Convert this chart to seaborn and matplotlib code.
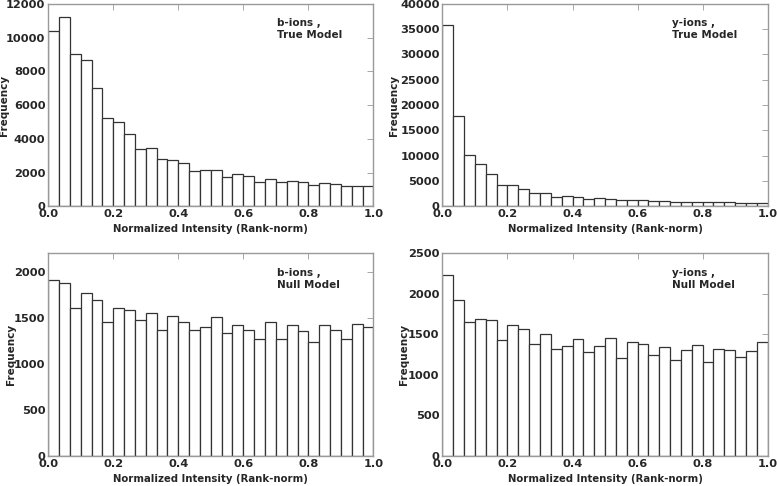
import numpy as np
import pandas as pd
import matplotlib
matplotlib.use("Agg")
import matplotlib.pyplot as plt
import seaborn as sns

# 30 equal bins on [0, 1], counts
n_bins = 30
bin_centers = (np.arange(n_bins) + 0.5) / n_bins

b_true = [10400, 11250, 9010, 8650, 7030, 5210, 5010, 4260, 3370, 3430,
          2830, 2770, 2570, 2100, 2160, 2160, 1760, 1900, 1820, 1450,
          1620, 1430, 1520, 1470, 1250, 1370, 1350, 1190, 1230, 1230]
y_true = [35800, 17800, 10200, 8290, 6320, 4280, 4150, 3490, 2700, 2630,
          1910, 2100, 1910, 1510, 1580, 1450, 1250, 1320, 1250, 1050,
          1120, 920, 920, 920, 860, 920, 860, 720, 720, 720]
b_null = [1910, 1884, 1602, 1772, 1689, 1457, 1602, 1588, 1472, 1548,
          1363, 1523, 1450, 1363, 1400, 1504, 1331, 1418, 1371, 1273,
          1450, 1269, 1418, 1360, 1233, 1418, 1371, 1266, 1429, 1403]
y_null = [2240, 1930, 1649, 1694, 1682, 1434, 1620, 1570, 1380, 1508,
          1322, 1360, 1438, 1285, 1360, 1455, 1211, 1409, 1380, 1252,
          1339, 1186, 1302, 1372, 1161, 1314, 1310, 1223, 1298, 1405]

panels = [
    (b_true, "b-ions ,\nTrue Model", 12000, 2000, -0.135),
    (y_true, "y-ions ,\nTrue Model", 40000, 5000, -0.148),
    (b_null, "b-ions ,\nNull Model", 2200, 500, -0.114),
    (y_null, "y-ions ,\nNull Model", 2500, 500, -0.117),
]

sns.set_style("white")
plt.rcParams['font.family'] = ['DejaVu Sans']
plt.rcParams['font.weight'] = 'bold'

fig, axes = plt.subplots(2, 2, figsize=(7.77, 4.86), dpi=100)
fig.subplots_adjust(left=0.062, right=0.988, top=0.992, bottom=0.062,
                    wspace=0.212, hspace=0.233)

for ax, (counts, label, ymax, ystep, ylab_x) in zip(axes.flat, panels):
    df = pd.DataFrame({'x': bin_centers, 'count': counts})
    sns.histplot(data=df, x='x', weights='count', bins=n_bins, binrange=(0, 1), ax=ax,
                 color='white', edgecolor='#333333', linewidth=0.9, alpha=1)
    ax.set_xlim(0, 1)
    ax.set_ylim(0, ymax)
    ax.set_yticks(np.arange(0, ymax + 1, ystep))
    ax.set_xticks(np.arange(0, 1.01, 0.2))
    ax.set_xlabel('Normalized Intensity (Rank-norm)', fontsize=7.3, fontweight='bold', va='center')
    ax.set_ylabel('Frequency', fontsize=7.5, fontweight='bold', va='center')
    ax.xaxis.set_label_coords(0.5, -0.113)
    ax.yaxis.set_label_coords(ylab_x, 0.5)
    ax.tick_params(direction='in', top=True, right=True, length=4, width=0.6,
                   color='#999999', labelsize=8.2, pad=2)
    for lab in ax.get_xticklabels() + ax.get_yticklabels():
        lab.set_fontweight('bold')
    for sp in ax.spines.values():
        sp.set_color('#999999')
        sp.set_linewidth(1.0)
    ax.text(0.705, 0.93, label, transform=ax.transAxes, fontsize=7.5,
            fontweight='bold', va='top', ha='left', linespacing=1.25)

fig.savefig('out.png', dpi=100)
